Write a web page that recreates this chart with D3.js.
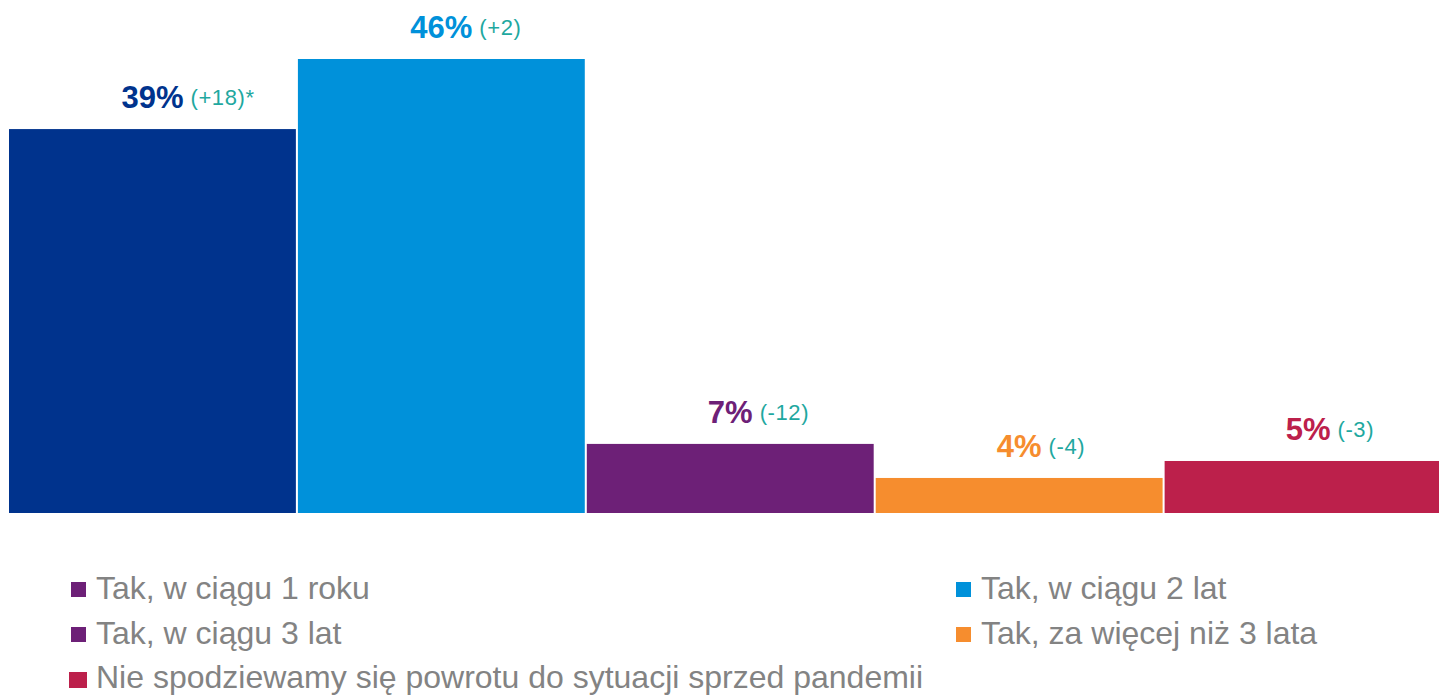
<!DOCTYPE html>
<html>
<head>
<meta charset="utf-8">
<script src="https://cdn.jsdelivr.net/npm/d3@7"></script>
<style>
  html, body { margin: 0; padding: 0; background: #fff; }
  svg { display: block; }
</style>
</head>
<body>
<svg id="chart" width="1439" height="695"></svg>
<script>
// ---- data ----
const categories = [
  "Tak, w ciągu 1 roku",
  "Tak, w ciągu 2 lat",
  "Tak, w ciągu 3 lat",
  "Tak, za więcej niż 3 lata",
  "Nie spodziewamy się powrotu do sytuacji sprzed pandemii"
];
const values = [38.9, 46, 7, 3.55, 5.27];
const valueLabels = ["39%", "46%", "7%", "4%", "5%"];
const changeLabels = ["(+18)*", "(+2)", "(-12)", "(-4)", "(-3)"];
const barColors = ["#00338D", "#0091DA", "#6D2077", "#F68D2E", "#BC204B"];
const legendSwatchColors = ["#6D2077", "#0091DA", "#6D2077", "#F68D2E", "#BC204B"];

// ---- layout ----
const W = 1439, H = 695;
const svg = d3.select("#chart");

const x = d3.scaleBand()
  .domain(categories)
  .range([9, 1451.5])
  .paddingInner(0.007)
  .paddingOuter(0);

const y = d3.scaleLinear()
  .domain([0, 46])
  .range([513, 59]);

const data = categories.map((c, i) => ({
  cat: c, value: values[i], label: valueLabels[i],
  change: changeLabels[i], color: barColors[i]
}));

// bars
svg.append("g").selectAll("rect")
  .data(data)
  .join("rect")
  .attr("x", d => x(d.cat))
  .attr("y", d => y(d.value))
  .attr("width", x.bandwidth())
  .attr("height", d => y(0) - y(d.value))
  .attr("fill", d => d.color);

// value labels
const lab = svg.append("g").selectAll("g")
  .data(data)
  .join("g")
  .attr("transform", d => `translate(${x(d.cat) + x.bandwidth() / 2},${y(d.value) - 21})`);

lab.append("text")
  .attr("class", "pct")
  .attr("text-anchor", "middle")
  .attr("font-family", "'Liberation Sans', Arial, sans-serif")
  .attr("font-weight", "bold")
  .attr("font-size", 31)
  .attr("fill", d => d.color)
  .text(d => d.label);

lab.each(function(d) {
  const g = d3.select(this);
  const w = g.select("text.pct").node().getComputedTextLength();
  g.append("text")
    .attr("x", w / 2 + 7)
    .attr("y", -3)
    .attr("font-family", "'Liberation Sans', Arial, sans-serif")
    .attr("font-size", 22)
    .attr("letter-spacing", 0.6)
    .attr("fill", "#1FA8A0")
    .text(d.change);
});

// legend
const legendPos = [
  {col: 0, row: 0}, {col: 1, row: 0},
  {col: 0, row: 1}, {col: 1, row: 1},
  {col: 0, row: 2}
];
const colX = [96, 981];
const rowY = [599, 644, 688];

const leg = svg.append("g").selectAll("g")
  .data(categories)
  .join("g")
  .attr("transform", (d, i) => `translate(${colX[legendPos[i].col]},${rowY[legendPos[i].row]})`);

leg.append("rect")
  .attr("x", (d, i) => i === 4 ? -27 : -25)
  .attr("y", (d, i) => i === 4 ? -16 : -17)
  .attr("width", (d, i) => i === 4 ? 18 : 15)
  .attr("height", (d, i) => i === 4 ? 16 : 15)
  .attr("fill", (d, i) => legendSwatchColors[i]);

leg.append("text")
  .attr("x", 0)
  .attr("y", 0)
  .attr("font-family", "'Liberation Sans', Arial, sans-serif")
  .attr("font-size", 32)
  .attr("fill", "#838383")
  .text(d => d);
</script>
</body>
</html>
